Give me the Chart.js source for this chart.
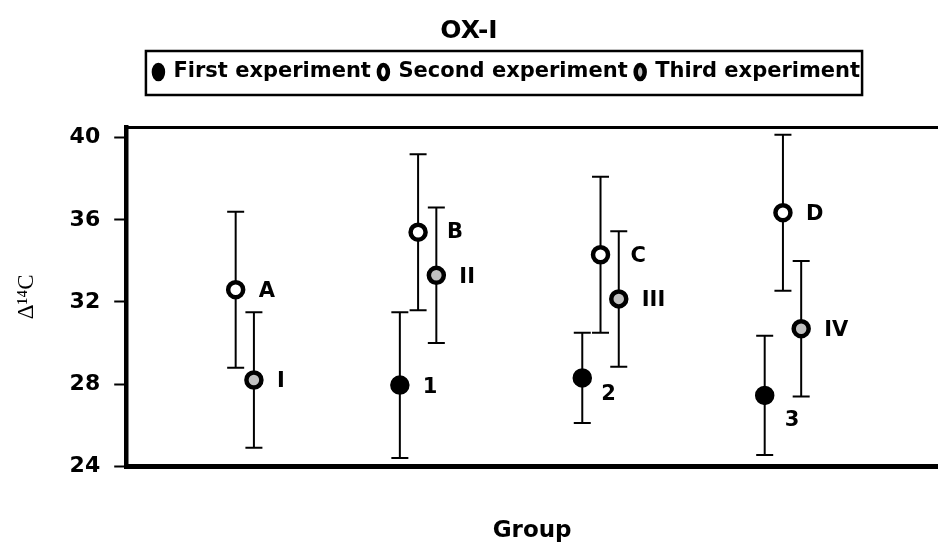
<!DOCTYPE html>
<html>
<head>
<meta charset="utf-8">
<title>OX-I</title>
<script src="https://cdn.jsdelivr.net/npm/chart.js@4.4.1/dist/chart.umd.min.js"></script>
<style>
  html, body { margin: 0; padding: 0; background: #fff; }
  #wrap { width: 938px; height: 546px; }
</style>
</head>
<body>
<div id="wrap"><canvas id="oxChart"></canvas></div>
<script>
// group positions along x; each experiment is drawn slightly left/right of the group
const groups = [1, 2, 3, 4];

const firstMeans = [null, 27.95, 28.3, 27.45];   // no first experiment in group 1
const firstErr = [null, 3.55, 2.2, 2.9];
const firstLabels = ['', '1', '2', '3'];

const secondMeans = [32.6, 35.4, 34.3, 36.35];
const secondErr = [3.8, 3.8, 3.8, 3.8];
const secondLabels = ['A', 'B', 'C', 'D'];

const thirdMeans = [28.2, 33.3, 32.15, 30.7];
const thirdErr = [3.3, 3.3, 3.3, 3.3];
const thirdLabels = ['I', 'II', 'III', 'IV'];

const yTicks = [24, 28, 32, 36, 40];

const FONT = '"DejaVu Sans", Verdana, sans-serif';
const LEGEND_SHIFT = 38; // legend sits a bit right of centre in the original

const series = [
    { name: 'First experiment', means: firstMeans, errs: firstErr, labels: firstLabels, shift: -0.1, fill: '#000000' },
    { name: 'Second experiment', means: secondMeans, errs: secondErr, labels: secondLabels, shift: 0, fill: '#ffffff' },
    { name: 'Third experiment', means: thirdMeans, errs: thirdErr, labels: thirdLabels, shift: 0.1, fill: '#c0c0c0' }
];

function markerPoints(s) {
    const pts = [];
    groups.forEach((g, i) => {
        if (s.means[i] == null) return;
        pts.push({ x: g + s.shift, y: s.means[i] });
    });
    return pts;
}

function markerLabels(s) {
    return s.labels.filter((l, i) => s.means[i] != null);
}

function errorPoints(s) {
    const pts = [];
    groups.forEach((g, i) => {
        if (s.means[i] == null) return;
        pts.push({ x: g + s.shift, y: s.means[i] - s.errs[i] });
        pts.push({ x: g + s.shift, y: s.means[i] + s.errs[i] });
        pts.push({ x: g + s.shift, y: null }); // break the line between bars
    });
    return pts;
}

const datasets = [];
series.forEach(s => {
    datasets.push({
        label: s.name,
        data: markerPoints(s),
        pointLabels: markerLabels(s),
        showLine: false,
        pointStyle: 'circle',
        pointRadius: 7.5,
        pointHoverRadius: 7.5,
        pointBorderWidth: 4.5,
        pointBackgroundColor: s.fill,
        pointBorderColor: '#000000',
        backgroundColor: s.fill,
        borderColor: '#000000',
        borderWidth: 3,
        order: 0
    });
});
series.forEach(s => {
    datasets.push({
        label: s.name + ' error',
        errorBar: true,
        data: errorPoints(s),
        showLine: true,
        spanGaps: false,
        borderColor: '#000000',
        borderWidth: 2,
        pointStyle: 'line',
        pointRadius: 8.5,
        pointHoverRadius: 8.5,
        pointBorderWidth: 2,
        pointBorderColor: '#000000',
        order: 1
    });
});

// small nudges for labels that sit off the default spot
const labelNudge = { 'B': [6, -2], 'C': [7, 0], '2': [-4, 15], '3': [-3, 23] };

const pointLabelPlugin = {
    id: 'pointLabels',
    afterDatasetsDraw(chart) {
        const ctx = chart.ctx;
        ctx.save();
        ctx.font = 'bold 21px ' + FONT;
        ctx.fillStyle = '#000';
        ctx.textAlign = 'left';
        ctx.textBaseline = 'middle';
        chart.data.datasets.forEach((ds, di) => {
            if (!ds.pointLabels) return;
            chart.getDatasetMeta(di).data.forEach((el, i) => {
                const text = ds.pointLabels[i];
                const nudge = labelNudge[text] || [0, 0];
                ctx.fillText(text, el.x + 23 + nudge[0], el.y + 2 + nudge[1]);
            });
        });
        ctx.restore();
    }
};

const framePlugin = {
    id: 'frame',
    afterDraw(chart) {
        const { ctx, chartArea } = chart;
        ctx.save();
        ctx.strokeStyle = '#000';
        ctx.lineWidth = 3;
        ctx.beginPath();
        ctx.moveTo(chartArea.left, chartArea.top);
        ctx.lineTo(chartArea.right, chartArea.top);
        ctx.stroke();

        // box around the legend items
        const boxes = chart.legend.legendHitBoxes;
        if (boxes && boxes.length) {
            const first = boxes[0];
            const last = boxes[boxes.length - 1];
            const left = first.left - 8 + LEGEND_SHIFT;
            const right = last.left + last.width + 2 + LEGEND_SHIFT;
            const top = first.top - 10.5;
            const bottom = first.top + 33.5;
            ctx.lineWidth = 2.5;
            ctx.strokeRect(left, top, right - left, bottom - top);
        }
        ctx.restore();
    }
};

const legendTweak = {
    id: 'legendTweak',
    beforeInit(chart) {
        const legend = chart.legend;
        const fit = legend.fit;
        legend.fit = function () {
            fit.call(this);
            this.height += 35;
        };
        const draw = legend.draw;
        legend.draw = function () {
            this.ctx.save();
            this.ctx.translate(LEGEND_SHIFT, 0);
            draw.call(this);
            this.ctx.restore();
        };
    }
};

const chart = new Chart(document.getElementById('oxChart'), {
    type: 'scatter',
    data: { datasets: datasets },
    plugins: [legendTweak, pointLabelPlugin, framePlugin],
    options: {
        responsive: true,
        maintainAspectRatio: false,
        animation: false,
        layout: { padding: 0, autoPadding: false },
        plugins: {
            title: {
                display: true,
                text: 'OX-I',
                color: '#000',
                font: { family: FONT, size: 25, weight: 'bold' },
                padding: { top: 16, bottom: 7.5 }
            },
            legend: {
                display: true,
                position: 'top',
                labels: {
                    color: '#000',
                    font: { family: FONT, size: 21, weight: 'bold' },
                    usePointStyle: true,
                    pointStyleWidth: 9,
                    boxHeight: 10,
                    padding: 8,
                    filter: (item, data) => !data.datasets[item.datasetIndex].errorBar
                }
            },
            tooltip: { enabled: false }
        },
        scales: {
            x: {
                type: 'linear',
                min: 0.4,
                max: 4.85,
                grid: { display: false, drawTicks: false },
                ticks: { display: false },
                border: { display: true, color: '#000', width: 5 },
                title: {
                    display: true,
                    text: 'Group',
                    color: '#000',
                    font: { family: FONT, size: 23, weight: 'bold' },
                    padding: { top: 51, bottom: 1.2 }
                }
            },
            y: {
                type: 'linear',
                min: 24,
                max: 40.5,
                afterBuildTicks: axis => {
                    axis.ticks = yTicks.map(v => ({ value: v }));
                },
                grid: {
                    display: true,
                    drawOnChartArea: false,
                    drawTicks: true,
                    tickLength: 12,
                    tickWidth: 2,
                    tickColor: '#000'
                },
                border: { display: true, color: '#000', width: 4.5 },
                ticks: {
                    color: '#000',
                    padding: 14,
                    font: { family: FONT, size: 22, weight: 'bold' }
                },
                title: {
                    display: true,
                    text: 'Δ¹⁴C',
                    color: '#000',
                    font: { family: '"Liberation Serif", "Times New Roman", serif', size: 23 },
                    padding: { top: 13.5, bottom: 14.5 }
                }
            }
        }
    }
});
</script>
</body>
</html>
